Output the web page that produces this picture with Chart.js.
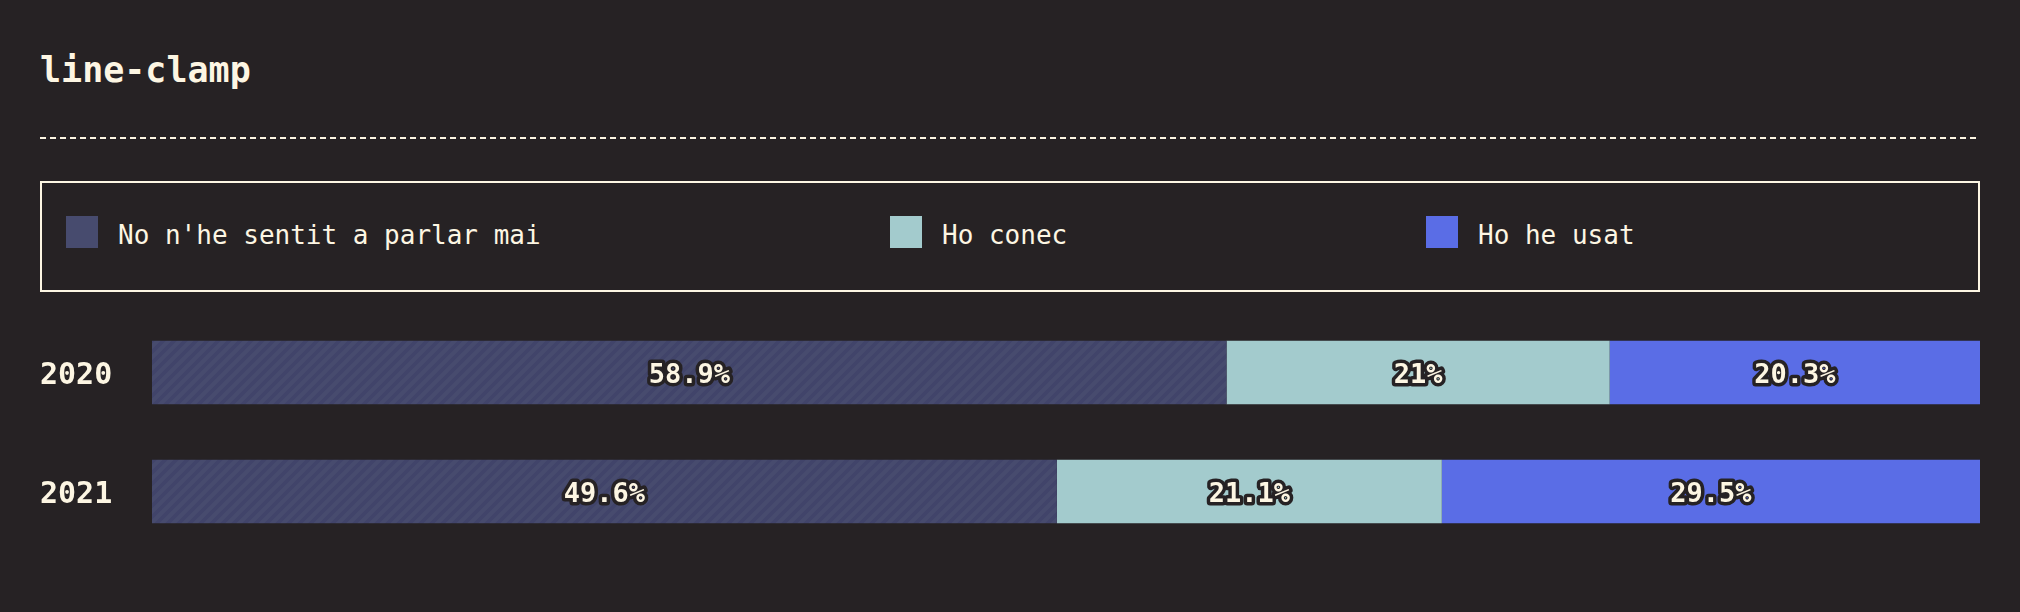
<!DOCTYPE html>
<html>
<head>
<meta charset="utf-8">
<script src="https://cdn.jsdelivr.net/npm/chart.js@4"></script>
<style>
  html, body { margin: 0; padding: 0; background: #262224; width: 2020px; height: 612px; overflow: hidden; }
  body { position: relative; font-family: "DejaVu Sans Mono", monospace; color: #fdf6e3; }
  h1 { position: absolute; left: 40px; top: 48px; margin: 0; font-size: 35px; line-height: 44px; font-weight: bold; }
  .dash { position: absolute; left: 40px; top: 137px; width: 1940px; height: 2px;
          background: repeating-linear-gradient(90deg, #fdf6e3 0 6px, transparent 6px 10px); }
  .legend { position: absolute; left: 40px; top: 181px; width: 1936px; height: 107px; border: 2px solid #fdf6e3; }
  .item { position: absolute; top: 33px; height: 32px; display: flex; align-items: center; font-size: 26px; }
  .item span { position: relative; top: 3px; }
  .item i { display: inline-block; width: 32px; height: 32px; margin-right: 20px; }
  #chart { position: absolute; left: 0; top: 295px; }
</style>
</head>
<body>
<h1>line-clamp</h1>
<div class="dash"></div>
<div class="legend" id="legend"></div>
<canvas id="chart" width="2020" height="274"></canvas>
<script>
const years = ['2020', '2021'];
const seriesNames = ["No n'he sentit a parlar mai", 'Ho conec', 'Ho he usat'];
const neverHeard = [58.9, 49.6];
const known = [21, 21.1];
const used = [20.3, 29.5];
const colors = ['#474b6e', '#a3cbcd', '#5a6de6'];
const legendX = [24, 848, 1384];

// legend
const legend = document.getElementById('legend');
seriesNames.forEach((name, i) => {
  const d = document.createElement('div');
  d.className = 'item';
  d.style.left = legendX[i] + 'px';
  const sw = document.createElement('i');
  sw.style.background = colors[i];
  const t = document.createElement('span');
  t.textContent = name;
  d.appendChild(sw);
  d.appendChild(t);
  legend.appendChild(d);
});

// diagonal stripes for the first series
function hatch(base, line) {
  const n = 11;
  const c = document.createElement('canvas');
  c.width = n; c.height = n;
  const g = c.getContext('2d');
  g.fillStyle = base;
  g.fillRect(0, 0, n, n);
  g.strokeStyle = line;
  g.lineWidth = 3.5;
  g.beginPath();
  g.moveTo(-2, n + 2); g.lineTo(n + 2, -2);
  g.moveTo(-n / 2 - 2, n / 2 + 2); g.lineTo(n / 2 + 2, -n / 2 - 2);
  g.moveTo(n / 2 - 2, n * 1.5 + 2); g.lineTo(n * 1.5 + 2, n / 2 - 2);
  g.stroke();
  return g.createPattern(c, 'repeat');
}

const totals = years.map((y, i) => neverHeard[i] + known[i] + used[i]);

const barLabels = {
  id: 'barLabels',
  afterDatasetsDraw(chart) {
    const ctx = chart.ctx;
    ctx.save();
    ctx.font = 'bold 27px "DejaVu Sans Mono", monospace';
    ctx.textAlign = 'center';
    ctx.textBaseline = 'middle';
    ctx.lineJoin = 'round';
    chart.data.datasets.forEach((ds, di) => {
      chart.getDatasetMeta(di).data.forEach((el, i) => {
        const txt = ds.data[i] + '%';
        const x = (el.x + el.base) / 2;
        ctx.lineWidth = 7;
        ctx.strokeStyle = '#262224';
        ctx.strokeText(txt, x, el.y + 3);
        ctx.fillStyle = '#fdf6e3';
        ctx.fillText(txt, x, el.y + 3);
      });
    });
    ctx.restore();
  }
};

new Chart(document.getElementById('chart'), {
  type: 'bar',
  data: {
    labels: years,
    datasets: [
      { label: seriesNames[0], data: neverHeard, backgroundColor: hatch('#474b6e', '#41446a') },
      { label: seriesNames[1], data: known, backgroundColor: colors[1] },
      { label: seriesNames[2], data: used, backgroundColor: colors[2] }
    ]
  },
  options: {
    indexAxis: 'y',
    responsive: false,
    animation: false,
    layout: { padding: { left: 40, right: 40, top: 0, bottom: 0 } },
    datasets: { bar: { categoryPercentage: 0.5333, barPercentage: 1, borderWidth: 0 } },
    plugins: { legend: { display: false }, tooltip: { enabled: false } },
    scales: {
      x: { stacked: true, display: false, min: 0, max: Math.max(...totals) },
      y: {
        stacked: true,
        grid: { display: false },
        border: { display: false },
        afterFit(scale) { scale.width = 112; },
        ticks: {
          color: '#fdf6e3',
          crossAlign: 'far',
          padding: 0,
          labelOffset: 4,
          font: { family: '"DejaVu Sans Mono", monospace', size: 30, weight: 'bold' }
        }
      }
    }
  },
  plugins: [barLabels]
});
</script>
</body>
</html>
